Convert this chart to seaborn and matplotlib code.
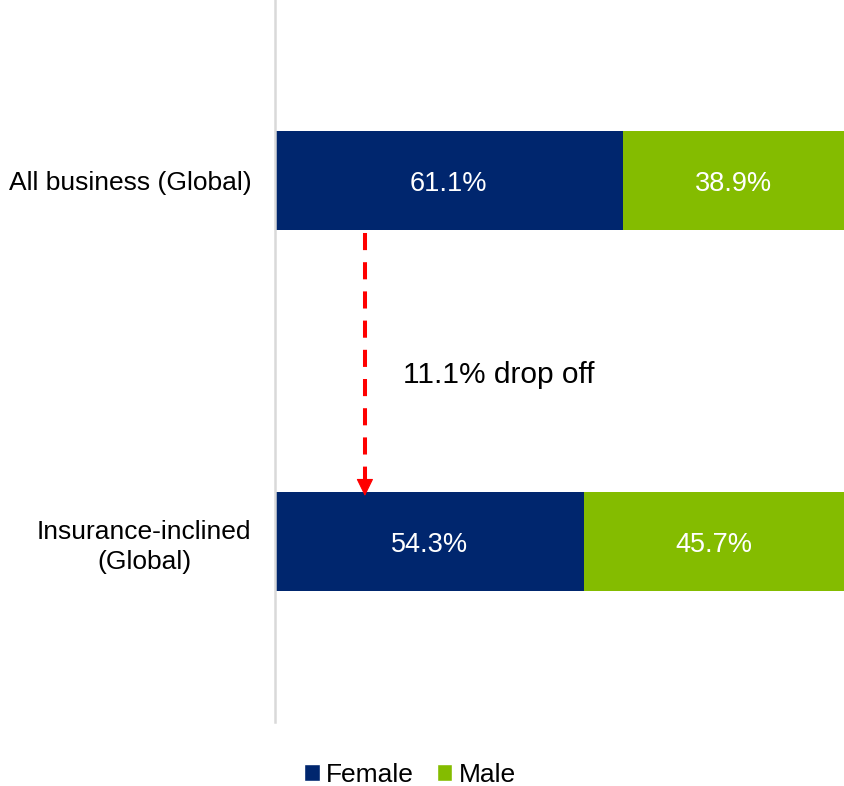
import matplotlib
matplotlib.use("Agg")
import matplotlib.pyplot as plt
import seaborn as sns
import pandas as pd
from matplotlib.patches import Patch

sns.set_theme(style="white")
plt.rcParams["font.family"] = ["Liberation Sans", "DejaVu Sans"]

categories = ["All business (Global)", "Insurance-inclined\n(Global)"]
female = [61.1, 54.3]
male = [38.9, 45.7]
drop_label = "11.1% drop off"

navy = "#00266E"
green = "#84BC00"

df = pd.DataFrame({"category": categories, "female": female, "male": male})
df["total"] = df["female"] + df["male"]

fig = plt.figure(figsize=(8.44, 7.86), dpi=100)
ax = fig.add_axes([275 / 844, 1 - 722 / 786, 1 - 275 / 844, 722 / 786])

bar_w = 0.274
sns.barplot(data=df, x="total", y="category", orient="h", color=green,
            width=bar_w, saturation=1, ax=ax, edgecolor="none")
sns.barplot(data=df, x="female", y="category", orient="h", color=navy,
            width=bar_w, saturation=1, ax=ax, edgecolor="none")

ax.set_xlim(0, 100)
ax.set_ylim(1.5, -0.5)
ax.set_xlabel("")
ax.set_ylabel("")
ax.set_xticks([])

for i, (f, m) in enumerate(zip(female, male)):
    ax.text(f / 2, i + 0.01, f"{f:.1f}%", ha="center", va="center",
            color="white", fontsize=19.5)
    ax.text(f + m / 2, i + 0.01, f"{m:.1f}%", ha="center", va="center",
            color="white", fontsize=19.5)

ax.tick_params(axis="y", length=0, pad=17, labelsize=19)
for lbl in ax.get_yticklabels():
    lbl.set_multialignment("center")
    lbl.set_color("black")
    lbl.set_linespacing(1.3)

for side in ["top", "right", "bottom"]:
    ax.spines[side].set_visible(False)
ax.spines["left"].set_color("#D9D9D9")
ax.spines["left"].set_linewidth(1.8)

# dashed drop-off arrow between the two bars
x_arrow = 15.8
y_start = 0.145
y_head = 0.83
y_tip = 0.874
ax.plot([x_arrow, x_arrow], [y_start, y_head + 0.005], color="#FF0000",
        linewidth=2.9, linestyle=(0, (4.25, 3.0)), solid_capstyle="butt")
ax.annotate("", xy=(x_arrow, y_tip), xytext=(x_arrow, y_head),
            arrowprops=dict(arrowstyle="-|>,head_length=0.55,head_width=0.27",
                            mutation_scale=20, color="#FF0000", lw=0.8,
                            shrinkA=0, shrinkB=0))
ax.text(22.5, 0.538, drop_label, ha="left", va="center", fontsize=21.5,
        color="black")

handles = [Patch(facecolor=navy, label="Female"),
           Patch(facecolor=green, label="Male")]
fig.legend(handles=handles, loc="center", bbox_to_anchor=(410 / 844, 0.014),
           ncol=2, frameon=False, fontsize=19, handlelength=0.6,
           handleheight=0.6, handletextpad=0.25, columnspacing=0.85,
           labelcolor="black")

fig.savefig("out.png", dpi=100)
